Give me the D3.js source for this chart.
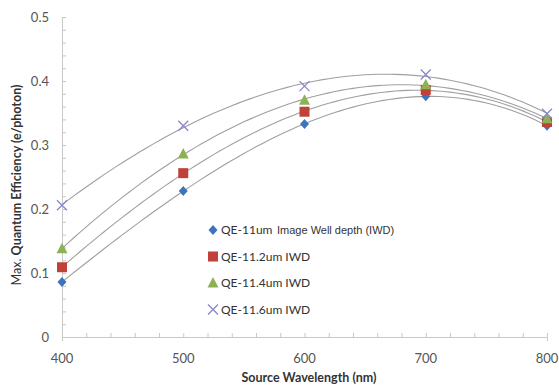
<!DOCTYPE html>
<html>
<head>
<meta charset="utf-8">
<script src="https://cdn.jsdelivr.net/npm/d3@7"></script>
<style>
  body { margin: 0; background: #fff; }
  text { font-family: Lato, "Open Sans", sans-serif; }
</style>
</head>
<body>
<div id="chart"></div>
<script>
// 数据
const wavelengths = [400, 500, 600, 700, 800];
const qe11 = [0.086, 0.228, 0.333, 0.376, 0.330];
const qe112 = [0.109, 0.256, 0.352, 0.386, 0.336];
const qe114 = [0.138, 0.286, 0.370, 0.394, 0.341];
const qe116 = [0.206, 0.330, 0.392, 0.410, 0.349];
const seriesNames = ["QE-11um", "QE-11.2um IWD", "QE-11.4um IWD", "QE-11.6um IWD"];
const xTicks = [400, 500, 600, 700, 800];
const yTicks = [0, 0.1, 0.2, 0.3, 0.4, 0.5];

const width = 559, height = 385;
const margin = { left: 62, right: 12, top: 17, bottom: 48 };

const svg = d3.select("#chart").append("svg")
    .attr("width", width)
    .attr("height", height);

const x = d3.scaleLinear().domain([400, 800]).range([margin.left, width - margin.right]);
const y = d3.scaleLinear().domain([0, 0.5]).range([height - margin.bottom, margin.top]);

// 坐标轴
const axisColor = "#c8c8c8";
const xAxis = svg.append("g")
    .attr("transform", `translate(0,${y(0)})`)
    .call(d3.axisBottom(x).tickValues(d3.range(400, 801, 20)).tickSize(4).tickFormat(""));
const yAxis = svg.append("g")
    .attr("transform", `translate(${x(400)},0)`)
    .call(d3.axisRight(y).tickValues(d3.range(0, 0.501, 0.02)).tickSize(4).tickFormat(""));
[xAxis, yAxis].forEach(g => {
    g.select(".domain").attr("stroke", axisColor);
    g.selectAll(".tick line").attr("stroke", axisColor);
});
// x 轴刻度线向上
xAxis.selectAll(".tick line").attr("y2", -4);

// 刻度标签
svg.selectAll("text.ylab")
    .data(yTicks)
    .enter().append("text")
    .attr("class", "ylab")
    .attr("x", x(400) - 13)
    .attr("y", d => y(d))
    .attr("dy", "0.35em")
    .attr("text-anchor", "end")
    .attr("font-size", 13)
    .attr("fill", "#555")
    .text(d => d === 0 ? "0" : d3.format(".1f")(d));

svg.selectAll("text.xlab")
    .data(xTicks)
    .enter().append("text")
    .attr("class", "xlab")
    .attr("x", d => x(d))
    .attr("y", y(0) + 26)
    .attr("text-anchor", "middle")
    .attr("font-size", 13)
    .attr("fill", "#555")
    .text(d => d);

// 轴标题
svg.append("text")
    .attr("x", 309)
    .attr("y", 382)
    .attr("text-anchor", "middle")
    .attr("font-size", 12.5)
    .attr("font-weight", "bold")
    .attr("fill", "#333")
    .text("Source Wavelength (nm)");

const yTitle = svg.append("text")
    .attr("transform", "translate(21,185) rotate(-90)")
    .attr("text-anchor", "middle")
    .attr("font-size", 12.5)
    .attr("fill", "#333");
yTitle.append("tspan").text("Max. ");
yTitle.append("tspan").attr("font-weight", "bold").text("Quantum Efficiency (e/photon)");

// 三次多项式拟合（趋势线）
function polyFit(xs, ys, order) {
    const m = order + 1;
    const xm = d3.mean(xs);
    const u = xs.map(v => (v - xm) / 100);
    const A = [];
    for (let r = 0; r < m; r++) {
        const row = [];
        for (let c = 0; c < m; c++) row.push(d3.sum(u, w => Math.pow(w, r + c)));
        row.push(d3.sum(u.map((w, i) => ys[i] * Math.pow(w, r))));
        A.push(row);
    }
    for (let i = 0; i < m; i++) {
        for (let j = i + 1; j < m; j++) {
            const f = A[j][i] / A[i][i];
            for (let k = i; k <= m; k++) A[j][k] -= f * A[i][k];
        }
    }
    const c = new Array(m).fill(0);
    for (let i = m - 1; i >= 0; i--) {
        let sum = A[i][m];
        for (let k = i + 1; k < m; k++) sum -= A[i][k] * c[k];
        c[i] = sum / A[i][i];
    }
    return v => { const w = (v - xm) / 100; return c.reduce((s, ci, k) => s + ci * Math.pow(w, k), 0); };
}

const series = [qe11, qe112, qe114, qe116];
const colors = ["#3f74bd", "#c0403a", "#8db255", "#8a8ac8"];
const line = d3.line().x(d => x(d[0])).y(d => y(d[1]));

series.forEach(vals => {
    const f = polyFit(wavelengths, vals, 3);
    const pts = d3.range(400, 800.1, 5).map(v => [v, f(v)]);
    svg.append("path")
        .attr("d", line(pts))
        .attr("fill", "none")
        .attr("stroke", "#a0a0a0")
        .attr("stroke-width", 1.1);
});

// 标记
function drawMarker(g, i, cx, cy) {
    if (i === 0) {
        g.append("path")
            .attr("d", `M${cx},${cy - 5}L${cx + 4.5},${cy}L${cx},${cy + 5}L${cx - 4.5},${cy}Z`)
            .attr("fill", colors[0]);
    } else if (i === 1) {
        g.append("rect")
            .attr("x", cx - 5).attr("y", cy - 5)
            .attr("width", 10).attr("height", 10)
            .attr("fill", colors[1]);
    } else if (i === 2) {
        g.append("path")
            .attr("d", `M${cx},${cy - 6}L${cx + 5.5},${cy + 4.5}L${cx - 5.5},${cy + 4.5}Z`)
            .attr("fill", colors[2]);
    } else {
        g.append("path")
            .attr("d", `M${cx - 5},${cy - 5}L${cx + 5},${cy + 5}M${cx + 5},${cy - 5}L${cx - 5},${cy + 5}`)
            .attr("stroke", colors[3])
            .attr("stroke-width", 1.4)
            .attr("fill", "none");
    }
}

series.forEach((vals, i) => {
    const g = svg.append("g");
    vals.forEach((v, j) => drawMarker(g, i, x(wavelengths[j]), y(v)));
});

// 图例
const legend = svg.append("g");
seriesNames.forEach((name, i) => {
    const ly = 230 + i * 26.5;
    drawMarker(legend, i, 213, ly);
    legend.append("text")
        .attr("x", 221)
        .attr("y", ly)
        .attr("dy", "0.35em")
        .attr("font-size", 12)
        .attr("fill", "#333")
        .text(name);
    if (i === 0) {
        legend.append("text")
            .attr("x", 277)
            .attr("y", ly)
            .attr("dy", "0.35em")
            .attr("font-size", 11)
            .attr("fill", "#333")
            .style("font-family", "'Liberation Sans', Arial, sans-serif")
            .text("Image Well depth (IWD)");
    }
});
</script>
</body>
</html>
